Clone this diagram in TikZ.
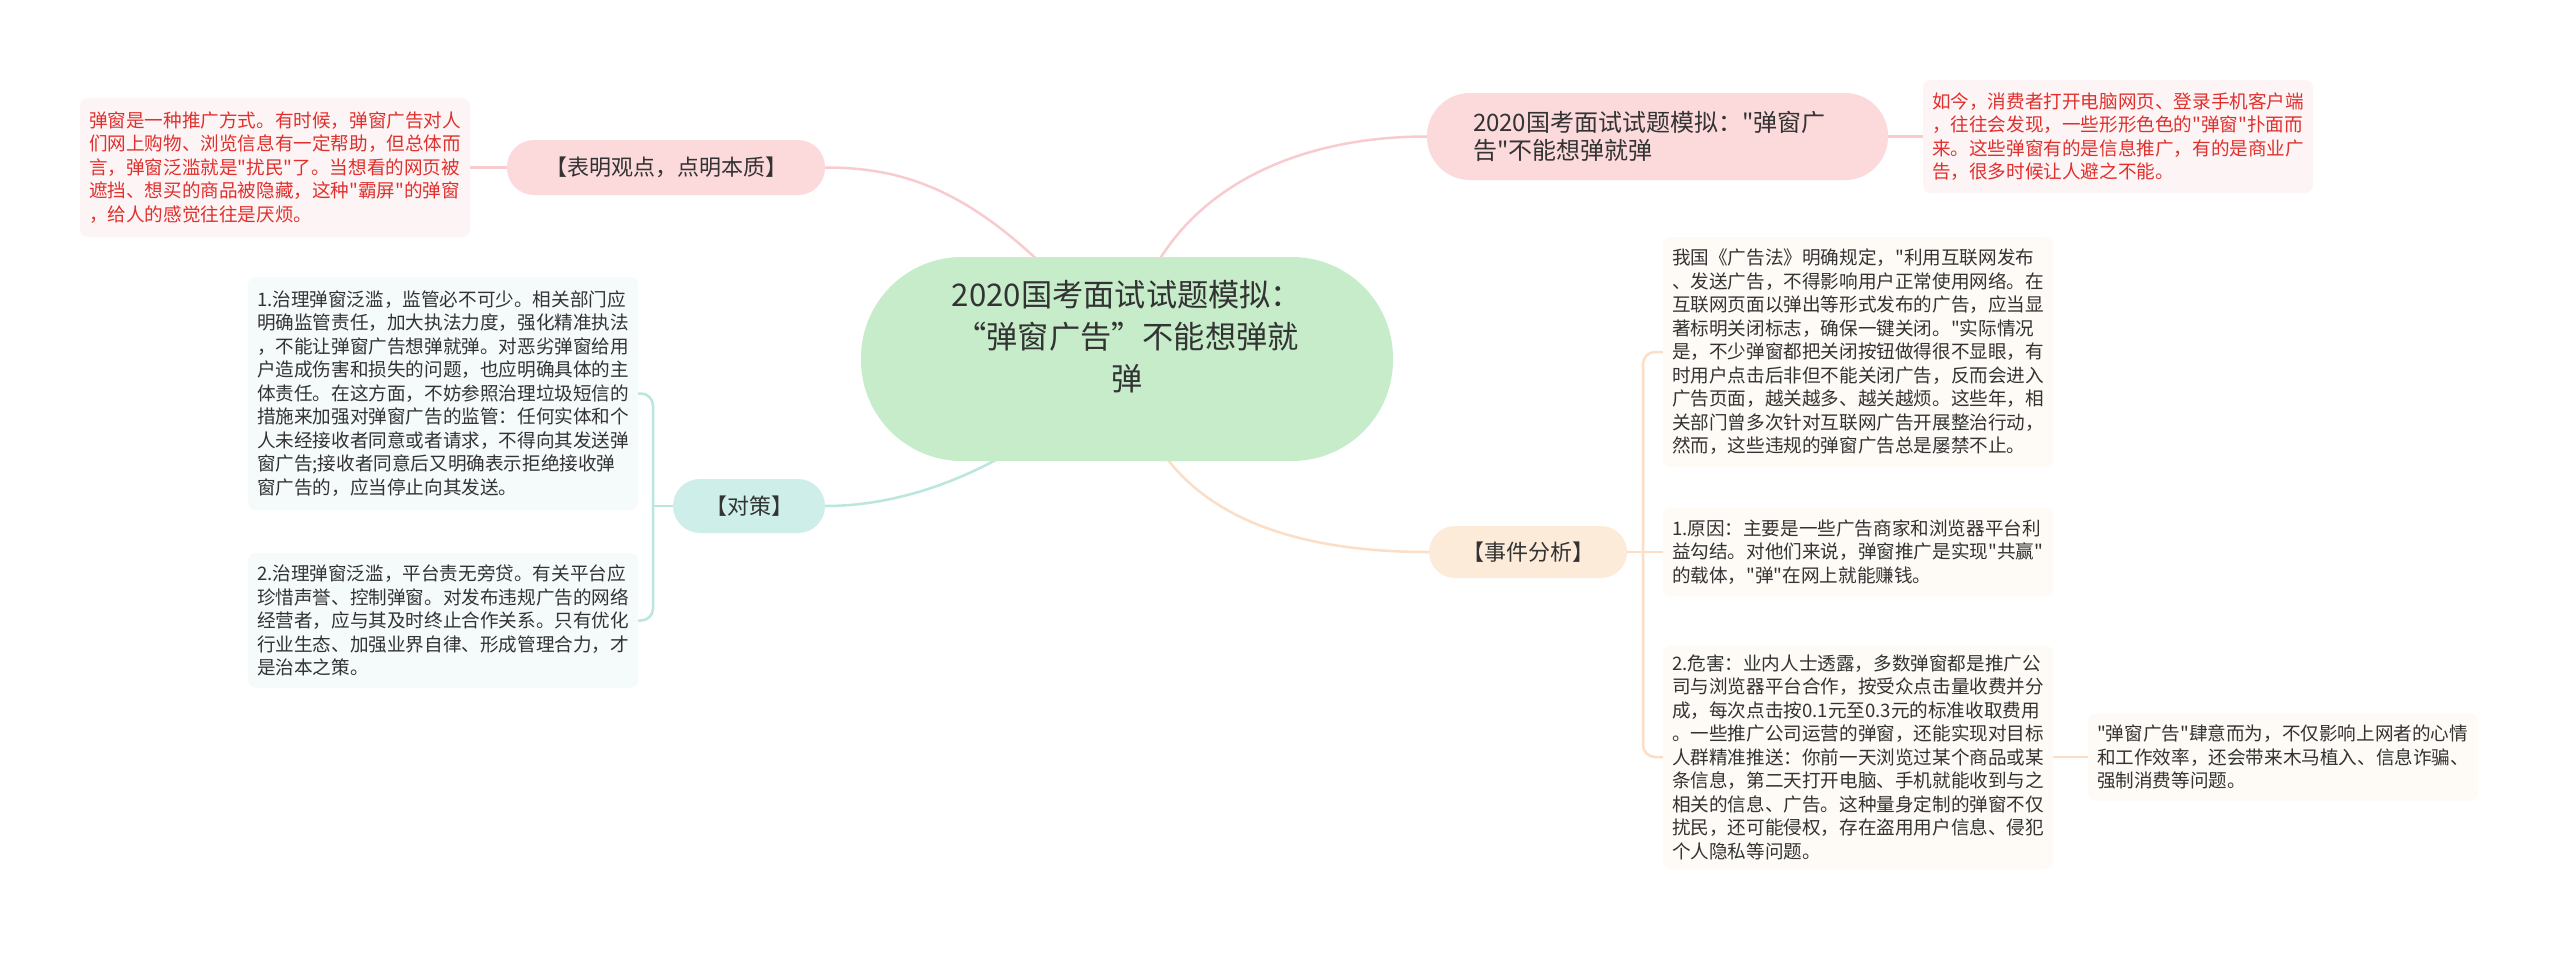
\documentclass[tikz,border=0pt]{standalone}
\usepackage{fontspec}
\setmainfont{Noto Sans CJK SC}[Ligatures=TeXOff]
\usetikzlibrary{backgrounds}
\definecolor{rootfill}{RGB}{198,236,202}
\definecolor{pinkfill}{RGB}{252,218,219}
\definecolor{pinkline}{RGB}{248,204,207}
\definecolor{pinkleaf}{RGB}{253,245,245}
\definecolor{redtext}{RGB}{224,48,46}
\definecolor{tealfill}{RGB}{206,239,233}
\definecolor{tealline}{RGB}{186,230,222}
\definecolor{tealleaf}{RGB}{245,250,250}
\definecolor{peachfill}{RGB}{253,235,218}
\definecolor{peachline}{RGB}{251,222,197}
\definecolor{peachleaf}{RGB}{254,250,245}
\definecolor{darktext}{RGB}{51,51,51}
\begin{document}
\begin{tikzpicture}[x=1pt,y=-1pt,
  leaf/.style={rounded corners=8, inner xsep=9, inner ysep=0, text width=372, align=left, anchor=center, text=darktext, font=\fontsize{18.6}{23.5}\selectfont},
  pinkleafbox/.style={leaf, fill=pinkleaf, text=redtext},
  tealleafbox/.style={leaf, fill=tealleaf},
  peachleafbox/.style={leaf, fill=peachleaf},
  pill/.style={inner sep=0, anchor=center, text=darktext, font=\fontsize{22}{28}\selectfont},
  conn/.style={line width=2.5pt},
]
% nodes
\node[fill=rootfill, rounded corners=101, minimum width=532, minimum height=204, inner sep=0] (root) at (1127,359) {};
\node[anchor=center, align=center, text=darktext, font=\fontsize{31.2}{42}\selectfont, inner sep=0] (roottext) at (1127,337) {2020国考面试试题模拟：\\“弹窗广告”不能想弹就\\弹};

\node[pill, fill=pinkfill, rounded corners=27, minimum width=318, minimum height=55] (tl) at (666,167.5) {【表明观点，点明本质】};
\node[pinkleafbox, minimum height=139] (tlleaf) at (275,167.5) {弹窗是一种推广方式。有时候，弹窗广告对人\\们网上购物、浏览信息有一定帮助，但总体而\\言，弹窗泛滥就是"扰民"了。当想看的网页被\\遮挡、想买的商品被隐藏，这种"霸屏"的弹窗\\，给人的感觉往往是厌烦。};

\node[pill, fill=pinkfill, rounded corners=43, minimum width=461, minimum height=87, inner xsep=46, text width=369, align=left, font=\fontsize{24}{28.5}\selectfont] (tr) at (1657.5,136.5) {2020国考面试试题模拟："弹窗广\\告"不能想弹就弹};
\node[pinkleafbox, minimum height=113] (trleaf) at (2118,136.5) {如今，消费者打开电脑网页、登录手机客户端\\，往往会发现，一些形形色色的"弹窗"扑面而\\来。这些弹窗有的是信息推广，有的是商业广\\告，很多时候让人避之不能。};

\node[pill, fill=tealfill, rounded corners=27, minimum width=152, minimum height=54] (ds) at (749,506) {【对策】};
\node[tealleafbox, minimum height=233] (ds1) at (443,393.5) {1.治理弹窗泛滥，监管必不可少。相关部门应\\明确监管责任，加大执法力度，强化精准执法\\，不能让弹窗广告想弹就弹。对恶劣弹窗给用\\户造成伤害和损失的问题，也应明确具体的主\\体责任。在这方面，不妨参照治理垃圾短信的\\措施来加强对弹窗广告的监管：任何实体和个\\人未经接收者同意或者请求，不得向其发送弹\\窗广告;接收者同意后又明确表示拒绝接收弹\\窗广告的，应当停止向其发送。};
\node[tealleafbox, minimum height=135] (ds2) at (443,620.5) {2.治理弹窗泛滥，平台责无旁贷。有关平台应\\珍惜声誉、控制弹窗。对发布违规广告的网络\\经营者，应与其及时终止合作关系。只有优化\\行业生态、加强业界自律、形成管理合力，才\\是治本之策。};

\node[pill, fill=peachfill, rounded corners=26, minimum width=198, minimum height=52] (sj) at (1528,552) {【事件分析】};
\node[peachleafbox, minimum height=230] (sja) at (1858,352) {我国《广告法》明确规定，"利用互联网发布\\、发送广告，不得影响用户正常使用网络。在\\互联网页面以弹出等形式发布的广告，应当显\\著标明关闭标志，确保一键关闭。"实际情况\\是，不少弹窗都把关闭按钮做得很不显眼，有\\时用户点击后非但不能关闭广告，反而会进入\\广告页面，越关越多、越关越烦。这些年，相\\关部门曾多次针对互联网广告开展整治行动，\\然而，这些违规的弹窗广告总是屡禁不止。};
\node[peachleafbox, minimum height=88] (sjb) at (1858,552) {1.原因：主要是一些广告商家和浏览器平台利\\益勾结。对他们来说，弹窗推广是实现"共赢"\\的载体，"弹"在网上就能赚钱。};
\node[peachleafbox, minimum height=223] (sjc) at (1858,757) {2.危害：业内人士透露，多数弹窗都是推广公\\司与浏览器平台合作，按受众点击量收费并分\\成，每次点击按0.1元至0.3元的标准收取费用\\。一些推广公司运营的弹窗，还能实现对目标\\人群精准推送：你前一天浏览过某个商品或某\\条信息，第二天打开电脑、手机就能收到与之\\相关的信息、广告。这种量身定制的弹窗不仅\\扰民，还可能侵权，存在盗用用户信息、侵犯\\个人隐私等问题。};
\node[peachleafbox, minimum height=87] (sjd) at (2283,757) {"弹窗广告"肆意而为，不仅影响上网者的心情\\和工作效率，还会带来木马植入、信息诈骗、\\强制消费等问题。};

\coordinate (dsj) at (653,506);
\coordinate (sjj) at (1643,552);

\begin{pgfonlayer}{background}
\fill[white] (0,0) rectangle (2560,954);
\useasboundingbox (0,0) rectangle (2560,954);
\draw[conn, pinkline] (root.center) .. controls (1000,200) and (920,167.5) .. (tl.east);
\draw[conn, pinkline] (root.center) .. controls (1140,220) and (1260,136.5) .. (tr.west);
\draw[conn, tealline] (root.center) .. controls (1040,450) and (930,506) .. (ds.east);
\draw[conn, peachline] (root.center) .. controls (1150,520) and (1300,552) .. (sj.west);
\draw[conn, pinkline] (tl.west) -- (tlleaf.east);
\draw[conn, pinkline] (tr.east) -- (trleaf.west);
\draw[conn, tealline] (ds.west) -- (dsj);
\draw[conn, tealline, rounded corners=12] (dsj) |- (ds1.east);
\draw[conn, tealline, rounded corners=12] (dsj) |- (ds2.east);
\draw[conn, peachline] (sj.east) -- (sjj);
\draw[conn, peachline, rounded corners=12] (sjj) |- (sja.west);
\draw[conn, peachline] (sjj) -- (sjb.west);
\draw[conn, peachline, rounded corners=12] (sjj) |- (sjc.west);
\draw[conn, peachline] (sjc.east) -- (sjd.west);
\end{pgfonlayer}
\end{tikzpicture}
\end{document}
